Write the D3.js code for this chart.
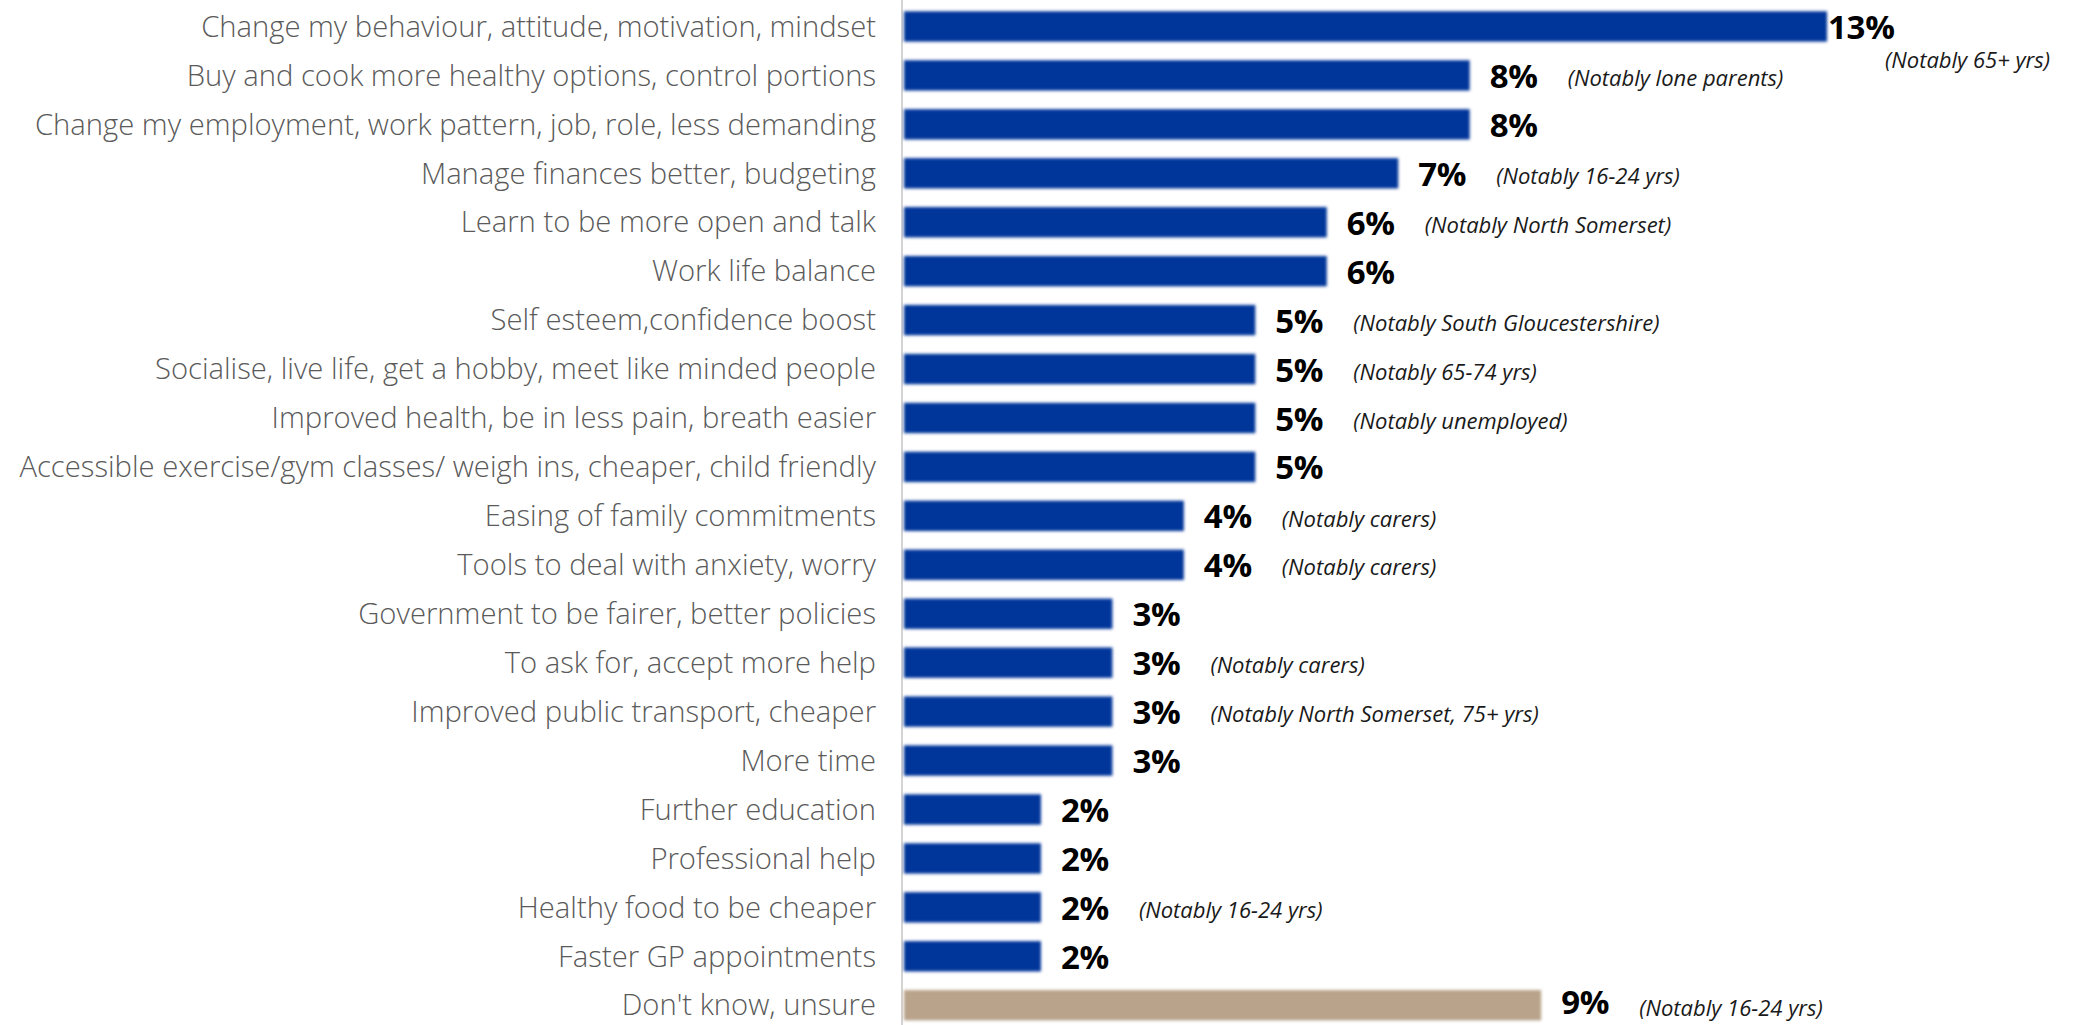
<!DOCTYPE html>
<html>
<head>
<meta charset="utf-8">
<script src="https://cdn.jsdelivr.net/npm/d3@7"></script>
<style>
  html, body { margin: 0; padding: 0; background: #ffffff; }
  svg { display: block; }
</style>
</head>
<body>
<svg id="chart" width="2079" height="1025"></svg>
<script>
const categories = [
  "Change my behaviour, attitude, motivation, mindset",
  "Buy and cook more healthy options, control portions",
  "Change my employment, work pattern, job, role, less demanding",
  "Manage finances better, budgeting",
  "Learn to be more open and talk",
  "Work life balance",
  "Self esteem,confidence boost",
  "Socialise, live life, get a hobby, meet like minded people",
  "Improved health, be in less pain, breath easier",
  "Accessible exercise/gym classes/ weigh ins, cheaper, child friendly",
  "Easing of family commitments",
  "Tools to deal with anxiety, worry",
  "Government to be fairer, better policies",
  "To ask for, accept more help",
  "Improved public transport, cheaper",
  "More time",
  "Further education",
  "Professional help",
  "Healthy food to be cheaper",
  "Faster GP appointments",
  "Don't know, unsure"
];
const values = [13, 8, 8, 7, 6, 6, 5, 5, 5, 5, 4, 4, 3, 3, 3, 3, 2, 2, 2, 2, 9];
const notes = [
  "(Notably 65+ yrs)",
  "(Notably lone parents)",
  "",
  "(Notably 16-24 yrs)",
  "(Notably North Somerset)",
  "",
  "(Notably South Gloucestershire)",
  "(Notably 65-74 yrs)",
  "(Notably unemployed)",
  "",
  "(Notably carers)",
  "(Notably carers)",
  "",
  "(Notably carers)",
  "(Notably North Somerset, 75+ yrs)",
  "",
  "",
  "",
  "(Notably 16-24 yrs)",
  "",
  "(Notably 16-24 yrs)"
];
const groups = ["main","main","main","main","main","main","main","main","main","main",
  "main","main","main","main","main","main","main","main","main","main","unsure"];

const data = categories.map((c, i) => ({ cat: c, value: values[i], note: notes[i], group: groups[i] }));

const svg = d3.select("#chart");
const W = 2079, H = 1025;

const x = d3.scaleLinear().domain([0, 13]).range([898, 1827]);
const y = d3.scaleBand().domain(categories).range([2, 1029.7]).paddingInner(0.38).paddingOuter(0.19);
const color = d3.scaleOrdinal().domain(["main", "unsure"]).range(["#00349a", "#b9a38a"]);

const defs = svg.append("defs");
defs.append("filter").attr("id", "soft").attr("x", "-5%").attr("y", "-30%").attr("width", "110%").attr("height", "160%")
  .append("feGaussianBlur").attr("stdDeviation", 1.4);

// axis line
const axisX = 902;
svg.append("line")
  .attr("x1", axisX).attr("x2", axisX).attr("y1", 0).attr("y2", H)
  .attr("stroke", "#d4d4d4").attr("stroke-width", 2);

// keep a text's box inside the picture
function keepInside(sel) {
  sel.each(function() {
    const b = this.getBBox();
    const over = b.y + b.height - (H - 1);
    if (over > 0) d3.select(this).attr("y", +d3.select(this).attr("y") - over);
  });
}

// category labels (auto-fit font size to the longest label's span)
const labelRight = 876;
const labels = svg.append("g").selectAll("text").data(data).join("text")
  .attr("x", labelRight)
  .attr("y", d => y(d.cat) + y.bandwidth() / 2)
  .attr("dy", "0.35em")
  .attr("text-anchor", "end")
  .attr("fill", "#5a5a5a")
  .style("font-family", "'Open Sans', 'DejaVu Sans', sans-serif")
  .style("font-weight", "300")
  .style("font-size", "25px")
  .text(d => d.cat);
let maxW = 0;
labels.each(function() { maxW = Math.max(maxW, this.getComputedTextLength()); });
const fitSize = 25 * (labelRight - 19) / maxW;
labels.style("font-size", fitSize + "px");
keepInside(labels);

// bars
const barInset = 6;
svg.append("g").attr("filter", "url(#soft)")
  .selectAll("rect").data(data).join("rect")
  .attr("x", x(0) + barInset)
  .attr("y", d => y(d.cat))
  .attr("width", d => x(d.value) - x(0) - barInset)
  .attr("height", y.bandwidth())
  .attr("fill", d => color(d.group));

const maxVal = d3.max(values);

// value labels
const valueLabels = svg.append("g").selectAll("text").data(data).join("text")
  .attr("x", d => x(d.value) + (d.value === maxVal ? 1 : 20))
  .attr("y", d => y(d.cat) + y.bandwidth() / 2 + 1)
  .attr("dy", "0.35em")
  .attr("fill", "#000")
  .style("font-family", "'Open Sans', 'DejaVu Sans', sans-serif")
  .style("font-weight", "700")
  .style("font-size", "33px")
  .style("letter-spacing", "-0.3px")
  .text(d => Math.round(d.value) + "%");
keepInside(valueLabels);

// notes
const noteLabels = svg.append("g").selectAll("text").data(data.filter(d => d.note)).join("text")
  .attr("x", d => d.value === maxVal ? x(d.value) + 58 : x(d.value) + 98)
  .attr("y", d => y(d.cat) + y.bandwidth() / 2 + (d.value === maxVal ? 34 : 3))
  .attr("dy", "0.35em")
  .attr("fill", "#1a1a1a")
  .style("font-family", "'Open Sans', 'DejaVu Sans', sans-serif")
  .style("font-style", "italic")
  .style("font-size", "22px")
  .text(d => d.note);
keepInside(noteLabels);
</script>
</body>
</html>
